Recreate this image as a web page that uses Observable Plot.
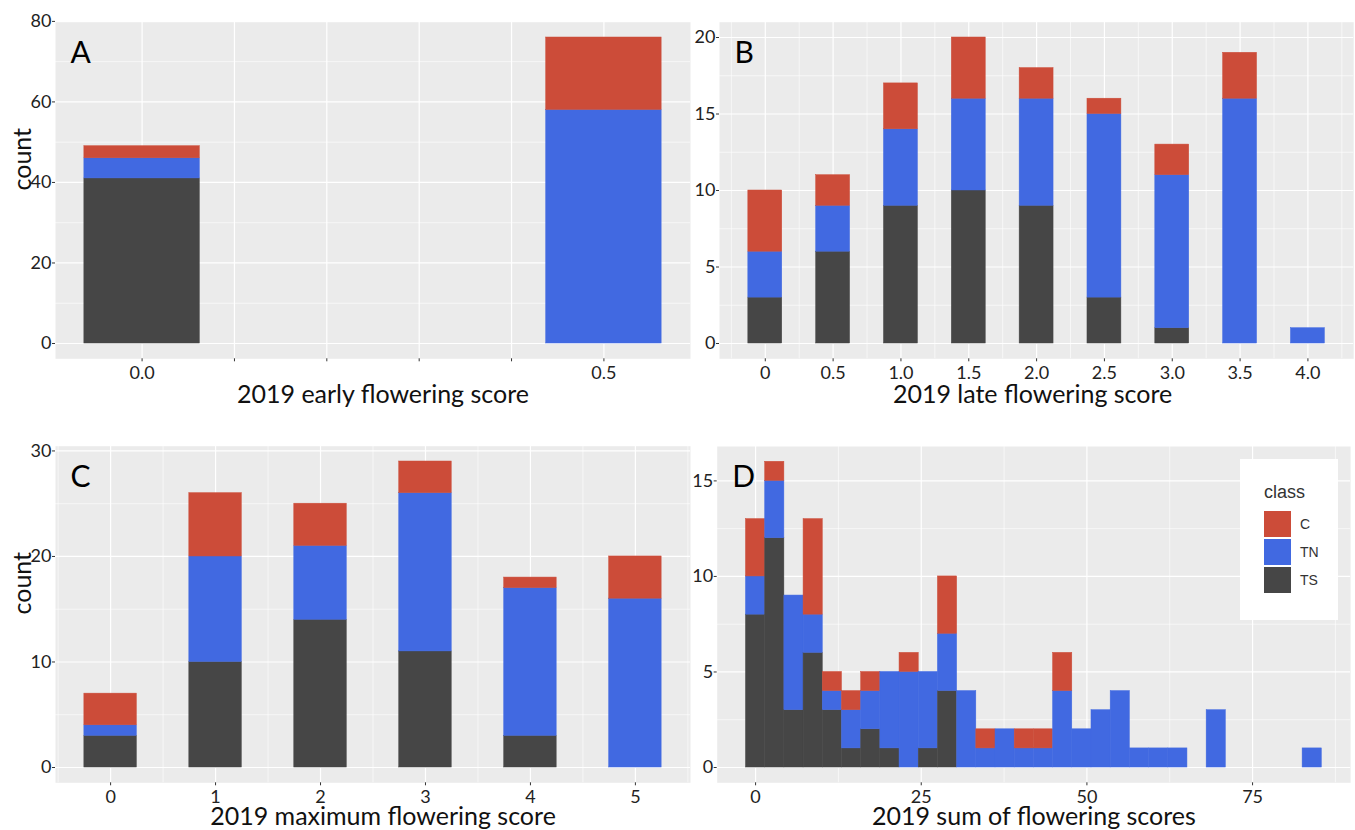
<!DOCTYPE html>
<html>
<head>
<meta charset="utf-8">
<script src="https://cdn.jsdelivr.net/npm/d3@7"></script>
<script src="https://cdn.jsdelivr.net/npm/@observablehq/plot@0.6"></script>
<style>
  body { margin: 0; background: #fff; }
  #fig { position: relative; width: 1355px; height: 830px; overflow: hidden; font-family: Lato, sans-serif; }
  .panel { position: absolute; }
  .legend { position: absolute; background: #fff; font-family: "Liberation Sans", Arial, sans-serif; color: #333; }
  .legend .ttl { position: absolute; font-size: 18px; }
  .legend .key { position: absolute; width: 27px; height: 26px; }
  .legend .lab { position: absolute; font-size: 14px; line-height: 26px; }
</style>
</head>
<body>
<div id="fig"></div>
<script>
// Flower-score counts by class (stacked: TS bottom, TN middle, C top)
const classes = ["C", "TN", "TS"];
const classColors = ["#cc4c39", "#4169e1", "#464646"];

// A: 2019 early flowering score
const earlyScore = [0, 0.5];
const earlyTS = [41, 0];
const earlyTN = [5, 58];
const earlyC  = [3, 18];

// B: 2019 late flowering score
const lateScore = [0, 0.5, 1.0, 1.5, 2.0, 2.5, 3.0, 3.5, 4.0];
const lateTS = [3, 6, 9, 10, 9, 3, 1, 0, 0];
const lateTN = [3, 3, 5, 6, 7, 12, 10, 16, 1];
const lateC  = [4, 2, 3, 4, 2, 1, 2, 3, 0];

// C: 2019 maximum flowering score
const maxScore = [0, 1, 2, 3, 4, 5];
const maxTS = [3, 10, 14, 11, 3, 0];
const maxTN = [1, 10, 7, 15, 14, 16];
const maxC  = [3, 6, 4, 3, 1, 4];

// D: 2019 sum of flowering scores, histogram with 30 bins over 0..84
const sumMin = 0, sumMax = 84, sumBins = 30;
const sumTS = [8, 12, 3, 6, 3, 1, 2, 1, 0, 1, 4, 0, 0, 0, 0, 0, 0, 0, 0, 0, 0, 0, 0, 0, 0, 0, 0, 0, 0, 0];
const sumTN = [2, 3, 6, 2, 1, 2, 2, 4, 5, 4, 3, 4, 1, 2, 1, 1, 4, 2, 3, 4, 1, 1, 1, 0, 3, 0, 0, 0, 0, 1];
const sumC  = [3, 1, 0, 5, 1, 1, 1, 0, 1, 0, 3, 0, 1, 0, 1, 1, 2, 0, 0, 0, 0, 0, 0, 0, 0, 0, 0, 0, 0, 0];

// Tick values
const earlyTicks = [0, 0.1, 0.2, 0.3, 0.4, 0.5];
const lateTicks = lateScore;
const maxTicks = maxScore;
const sumTicks = [0, 25, 50, 75];

// Build stacked rectangles from per-class counts
function stackRows(centers, layers, halfWidth) {
  const rows = [];
  centers.forEach((c, i) => {
    let base = 0;
    for (const [cls, values] of layers) {
      const v = values[i];
      if (v > 0) rows.push({cls, x1: c - halfWidth, x2: c + halfWidth, y1: base, y2: base + v});
      base += v;
    }
  });
  return rows;
}

const fig = document.getElementById("fig");

function drawPanel(o) {
  const xlo = d3.min(o.rows, d => d.x1), xhi = d3.max(o.rows, d => d.x2);
  const xpad = 0.05 * (xhi - xlo);
  const yhi = d3.max(o.rows, d => d.y2), ypad = 0.05 * yhi;
  const xd = [xlo - xpad, xhi + xpad], yd = [-ypad, yhi + ypad];
  const inX = v => v >= xd[0] && v <= xd[1];
  const inY = v => v >= yd[0] && v <= yd[1];
  const grid = {stroke: "#ffffff", strokeOpacity: 1};
  const marks = [
    Plot.frame({fill: "#ebebeb", stroke: "none"}),
    Plot.gridX(o.xMinor.filter(inX), {...grid, strokeWidth: 0.6}),
    Plot.gridY(o.yMinor.filter(inY), {...grid, strokeWidth: 0.6}),
    Plot.gridX(o.xGrid.filter(inX), {...grid, strokeWidth: 1.2}),
    Plot.gridY(o.yTicks.filter(inY), {...grid, strokeWidth: 1.2}),
    Plot.rect(o.rows, {x1: "x1", x2: "x2", y1: "y1", y2: "y2", fill: "cls", stroke: "cls", strokeWidth: 0.5}),
    Plot.axisX(o.xTicks, {tickSize: 3, tickPadding: 4, tickFormat: o.xFormat, stroke: "#333", fill: "#222", label: null}),
    Plot.axisY(o.yTicks, {tickSize: 3, tickPadding: 1, stroke: "#333", fill: "#222", label: null}),
    Plot.text([o.letter], {text: d => d, frameAnchor: "top-left", textAnchor: "start", lineAnchor: "top", dx: 15, dy: 19, fontSize: 30, fill: "#000"}),
    Plot.text([o.xTitle], {text: d => d, frameAnchor: "bottom", lineAnchor: "top", dx: o.titleDx, dy: o.titleDy, fontSize: 25, fill: "#111"})
  ];
  if (o.yTitle) {
    marks.push(Plot.text([o.yTitle], {text: d => d, frameAnchor: "left", rotate: -90, dx: -33, fontSize: 25, fill: "#111"}));
  }
  const svg = Plot.plot({
    width: o.width, height: o.height,
    marginLeft: o.m[0], marginRight: o.m[1], marginTop: o.m[2], marginBottom: o.m[3],
    x: {domain: xd},
    y: {domain: yd},
    color: {domain: classes, range: classColors},
    style: {fontFamily: "Lato, sans-serif", fontSize: "18px", color: "#222", background: "transparent", overflow: "visible", maxWidth: "none"},
    marks
  });
  const wrap = document.createElement("div");
  wrap.className = "panel";
  Object.assign(wrap.style, {left: o.left + "px", top: o.top + "px", width: o.width + "px", height: o.height + "px"});
  wrap.appendChild(svg);
  fig.appendChild(wrap);
}

const fmt1 = d3.format(".1f");

drawPanel({
  rows: stackRows(earlyScore, [["TS", earlyTS], ["TN", earlyTN], ["C", earlyC]], 0.0625),
  left: 0, top: 0, width: 690, height: 410, m: [55, 0, 21.7, 51.7],
  xTicks: earlyTicks, xGrid: earlyTicks, xMinor: [],
  xFormat: d => (d === 0 || d === 0.5) ? fmt1(d) : "",
  yTicks: [0, 20, 40, 60, 80], yMinor: [10, 30, 50, 70],
  letter: "A", xTitle: "2019 early flowering score", yTitle: "count", titleDx: 10, titleDy: 26
});

drawPanel({
  rows: stackRows(lateScore, [["TS", lateTS], ["TN", lateTN], ["C", lateC]], 0.125),
  left: 680, top: 0, width: 675, height: 410, m: [39, 1.8, 21.7, 51.7],
  xTicks: lateTicks, xGrid: lateTicks, xMinor: d3.range(-0.25, 4.6, 0.5),
  xFormat: d => d === 0 ? "0" : fmt1(d),
  yTicks: [0, 5, 10, 15, 20], yMinor: [2.5, 7.5, 12.5, 17.5],
  letter: "B", xTitle: "2019 late flowering score", yTitle: null, titleDx: -4, titleDy: 26
});

drawPanel({
  rows: stackRows(maxScore, [["TS", maxTS], ["TN", maxTN], ["C", maxC]], 0.25),
  left: 0, top: 420, width: 690, height: 410, m: [55, 0, 25.7, 47.7],
  xTicks: maxTicks, xGrid: maxTicks, xMinor: d3.range(-0.5, 5.6, 1),
  xFormat: d => String(d),
  yTicks: [0, 10, 20, 30], yMinor: [5, 15, 25],
  letter: "C", xTitle: "2019 maximum flowering score", yTitle: "count", titleDx: 10, titleDy: 24
});

const binWidth = (sumMax - sumMin) / (sumBins - 1);
const binCenters = d3.range(sumBins).map(i => sumMin + i * binWidth);
drawPanel({
  rows: stackRows(binCenters, [["TS", sumTS], ["TN", sumTN], ["C", sumC]], binWidth / 2),
  left: 680, top: 420, width: 675, height: 410, m: [36.7, 4.9, 26, 47.7],
  xTicks: sumTicks, xGrid: sumTicks, xMinor: [12.5, 37.5, 62.5, 87.5],
  xFormat: d => String(d),
  yTicks: [0, 5, 10, 15], yMinor: [2.5, 7.5, 12.5],
  letter: "D", xTitle: "2019 sum of flowering scores", yTitle: null, titleDx: 0, titleDy: 24
});

// Legend for the class fill
const legend = d3.select(fig).append("div").attr("class", "legend")
  .style("left", "1240px").style("top", "459px").style("width", "98px").style("height", "161px");
legend.append("div").attr("class", "ttl").style("left", "24px").style("top", "23px").text("class");
classes.forEach((c, i) => {
  legend.append("div").attr("class", "key")
    .style("left", "24px").style("top", (52 + i * 28.2) + "px")
    .style("background", classColors[i]);
  legend.append("div").attr("class", "lab")
    .style("left", "60px").style("top", (52 + i * 28.2) + "px")
    .text(c);
});
</script>
</body>
</html>
